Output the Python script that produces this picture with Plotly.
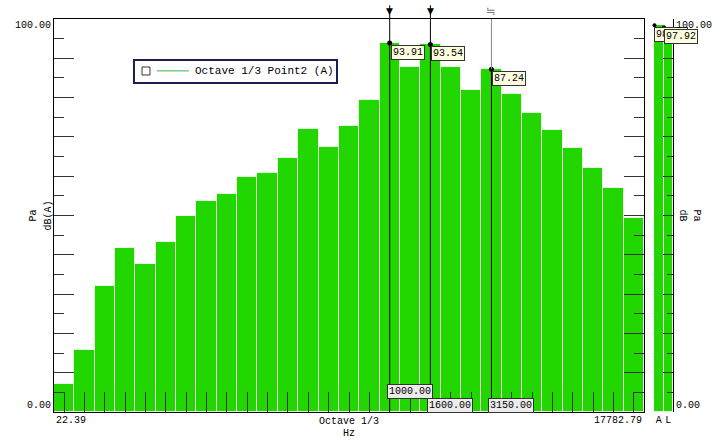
import plotly.graph_objects as go

# ---------------- data ----------------
band_labels = ["25", "31.5", "40", "50", "63", "80", "100", "125", "160", "200",
               "250", "315", "400", "500", "630", "800", "1000", "1250", "1600", "2000",
               "2500", "3150", "4000", "5000", "6300", "8000", "10000", "12500", "16000"]
band_levels = [7.1, 15.9, 32.0, 41.8, 37.7, 43.3, 50.0, 53.7, 55.5, 59.8,
               60.9, 64.6, 71.9, 67.5, 72.8, 79.5, 93.91, 87.7, 93.54, 87.7,
               82.0, 87.24, 80.9, 76.2, 71.8, 67.1, 62.2, 57.0, 49.4]
marker_bands = ["1000", "1600", "3150"]
marker_freq_text = ["1000.00", "1600.00", "3150.00"]
overall_labels = ["A", "L"]
overall_values = [98.40, 97.92]
axis_min_text = "22.39"
axis_max_text = "17782.79"

# ---------------- style ----------------
GREEN = "#22d600"
GAP = "#e8f9e2"
INK = "#000000"
MONO = "Liberation Mono, DejaVu Sans Mono, monospace"

xi = list(range(len(band_labels)))

fig = go.Figure()
fig.add_trace(go.Bar(x=xi, y=band_levels, marker=dict(color=GREEN, line=dict(color=GAP, width=1)),
                     xaxis="x", yaxis="y", showlegend=False, hoverinfo="skip"))
fig.add_trace(go.Bar(x=[0, 1], y=overall_values, marker=dict(color=GREEN, line=dict(color=GAP, width=1)),
                     xaxis="x2", yaxis="y2", showlegend=False, hoverinfo="skip"))

m_idx = [band_labels.index(b) for b in marker_bands]
m_val = [band_levels[i] for i in m_idx]

shapes = []
annotations = []

# marker lines
for k, (i, v) in enumerate(zip(m_idx, m_val)):
    if k < 2:
        shapes.append(dict(type="line", xref="x", yref="paper", x0=i, x1=i, y0=0, y1=1.035,
                           line=dict(color=INK, width=1), layer="above"))
        annotations.append(dict(xref="x", yref="paper", x=i, y=1, yanchor="bottom", yshift=1,
                                text="▼", showarrow=False, font=dict(size=9, color=INK, family="DejaVu Sans")))
    else:
        shapes.append(dict(type="line", xref="x", yref="paper", x0=i, x1=i, y0=0, y1=1.0,
                           line=dict(color="#8a8a8a", width=1), layer="above"))
        shapes.append(dict(type="line", xref="x", yref="y", x0=i, x1=i, y0=0, y1=v,
                           line=dict(color=INK, width=1), layer="above"))
        annotations.append(dict(xref="x", yref="paper", x=i, y=1, yanchor="bottom", yshift=-1,
                                text="≒", showarrow=False, font=dict(size=12, color="#777", family="DejaVu Sans")))

fig.add_trace(go.Scatter(x=m_idx, y=m_val, mode="markers", marker=dict(color=INK, size=5),
                         cliponaxis=False, showlegend=False, hoverinfo="skip", xaxis="x", yaxis="y"))

# value labels
for i, v in zip(m_idx, m_val):
    annotations.append(dict(xref="x", yref="y", x=i, y=v, xanchor="left", yanchor="top",
                            xshift=1, yshift=-2, text=f"{v:.2f}", showarrow=False,
                            bgcolor="#fffde0", bordercolor="#333", borderwidth=1, borderpad=1,
                            font=dict(family=MONO, size=10, color=INK)))

# frequency labels at bottom
f_shift = [13, -1, -1]
for i, t, s in zip(m_idx, marker_freq_text, f_shift):
    annotations.append(dict(xref="x", yref="y", x=i, y=0, xanchor="left", yanchor="bottom",
                            xshift=-3, yshift=s, text=t, showarrow=False,
                            bgcolor="#ececec", bordercolor="#333", borderwidth=1, borderpad=1,
                            font=dict(family=MONO, size=10, color=INK)))

# overall panel labels
fig.add_trace(go.Scatter(x=[-0.45, 0.55], y=overall_values, mode="markers", marker=dict(color=INK, size=4),
                         cliponaxis=False, showlegend=False, hoverinfo="skip", xaxis="x2", yaxis="y2"))
for j, v in enumerate(overall_values):
    annotations.append(dict(xref="x2", yref="y2", x=j - 0.45, y=v, xanchor="left", yanchor="top",
                            xshift=0, yshift=-2, text=f"{v:.2f}", showarrow=False,
                            bgcolor="#fffde0", bordercolor="#333", borderwidth=1, borderpad=1,
                            font=dict(family=MONO, size=10, color=INK)))

# axis end labels
txt = dict(family=MONO, size=10, color=INK)
annotations += [
    dict(xref="paper", yref="y", x=0, y=100, xanchor="right", yanchor="top", xshift=-1, yshift=1,
         text="100.00", showarrow=False, font=txt),
    dict(xref="paper", yref="y", x=0, y=0, xanchor="right", yanchor="bottom", xshift=-1, yshift=-1,
         text="0.00", showarrow=False, font=txt),
    dict(xref="paper", yref="y2", x=1, y=100, xanchor="left", yanchor="top", xshift=1, yshift=1,
         text="100.00", showarrow=False, font=txt),
    dict(xref="paper", yref="y2", x=1, y=0, xanchor="left", yanchor="bottom", xshift=1, yshift=-1,
         text="0.00", showarrow=False, font=txt),
    dict(xref="x domain", yref="paper", x=0, y=0, xanchor="left", yanchor="top", yshift=-1,
         text=axis_min_text, showarrow=False, font=txt),
    dict(xref="x domain", yref="paper", x=1, y=0, xanchor="right", yanchor="top", yshift=-1,
         text=axis_max_text, showarrow=False, font=txt),
    dict(xref="x domain", yref="paper", x=0.5, y=0, xanchor="center", yanchor="top", yshift=-2,
         text="Octave 1/3", showarrow=False, font=dict(family=MONO, size=10, color=INK)),
    dict(xref="x domain", yref="paper", x=0.5, y=0, xanchor="center", yanchor="top", yshift=-14,
         text="Hz", showarrow=False, font=dict(family=MONO, size=10, color=INK)),
    dict(xref="paper", yref="paper", x=0, y=0.5, xanchor="center", yanchor="middle", xshift=-21,
         text="Pa", textangle=-90, showarrow=False, font=dict(family=MONO, size=10, color=INK)),
    dict(xref="paper", yref="paper", x=0, y=0.5, xanchor="center", yanchor="middle", xshift=-6,
         text="dB(A)", textangle=-90, showarrow=False, font=dict(family=MONO, size=10, color=INK)),
    dict(xref="paper", yref="paper", x=1, y=0.5, xanchor="center", yanchor="middle", xshift=9,
         text="dB", textangle=90, showarrow=False, font=dict(family=MONO, size=10, color=INK)),
    dict(xref="paper", yref="paper", x=1, y=0.5, xanchor="center", yanchor="middle", xshift=23,
         text="Pa", textangle=90, showarrow=False, font=dict(family=MONO, size=10, color=INK)),
]

# legend box (drawn manually)
shapes += [
    dict(type="rect", xref="paper", yref="paper", x0=0.1292, x1=0.4572, y0=0.8372, y1=0.8957,
         line=dict(color="#1c1c50", width=2), fillcolor="white", layer="above"),
    dict(type="rect", xref="paper", yref="paper", x0=0.1422, x1=0.1551, y0=0.8575, y1=0.8779,
         line=dict(color="#333", width=1), fillcolor="white", layer="above"),
    dict(type="line", xref="paper", yref="paper", x0=0.1664, x1=0.2181, y0=0.868, y1=0.868,
         line=dict(color="#3cb43c", width=1), layer="above"),
]
annotations.append(dict(xref="paper", yref="paper", x=0.2245, y=0.868, xanchor="left", yanchor="middle",
                        text="Octave 1/3 Point2 (A)", showarrow=False,
                        font=dict(family=MONO, size=11, color=INK)))

tickc = "#333"
fig.update_layout(
    width=720, height=444,
    margin=dict(l=54, r=47, t=19, b=32),
    paper_bgcolor="white", plot_bgcolor="white",
    bargap=0,
    showlegend=False,
    xaxis=dict(domain=[0, 0.9532], range=[-0.5, len(band_labels) - 0.5], showline=True, linecolor=INK,
               linewidth=1, mirror=True, ticks="inside", ticklen=20, tickcolor=tickc, tickwidth=1,
               tickvals=xi, showticklabels=False, showgrid=False, zeroline=False, anchor="y"),
    yaxis=dict(domain=[0, 1], range=[0, 100], showline=True, linecolor=INK, linewidth=1, mirror="ticks",
               ticks="inside", ticklen=20, tickcolor=tickc, tickwidth=1, tick0=0, dtick=10,
               minor=dict(ticks="inside", ticklen=10, tickcolor=tickc, tick0=0, dtick=5, showgrid=False),
               showticklabels=False, showgrid=False, zeroline=False, anchor="x"),
    xaxis2=dict(domain=[0.9693, 1], range=[-0.5, 1.5], showline=False, ticks="", tickvals=[0, 1],
                ticktext=overall_labels, tickfont=dict(family=MONO, size=10, color=INK),
                showgrid=False, zeroline=False, anchor="y2"),
    yaxis2=dict(domain=[0, 1], range=[0, 100], side="right", showline=True, linecolor=INK, linewidth=1,
                ticks="inside", ticklen=10, tickcolor=tickc, tick0=0, dtick=10,
                minor=dict(ticks="inside", ticklen=6, tickcolor=tickc, tick0=0, dtick=5, showgrid=False),
                showticklabels=False, showgrid=False, zeroline=False, anchor="x2"),
    shapes=shapes,
    annotations=annotations,
)

fig.write_html("out.html")
